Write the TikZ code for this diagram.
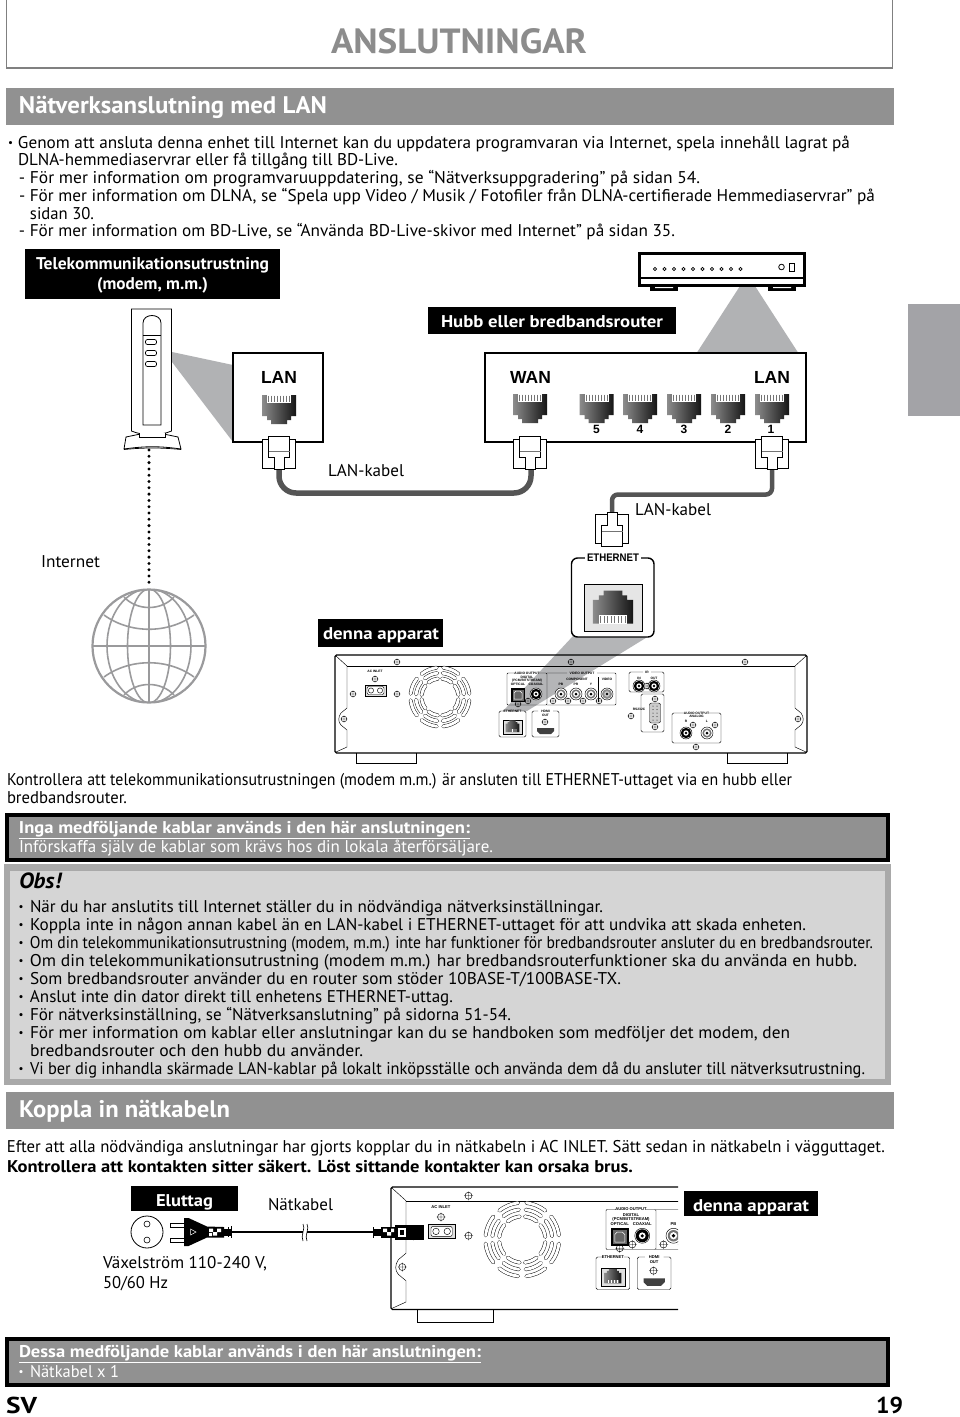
\documentclass[tikz,border=0pt]{standalone}
\usepackage{fontspec}
\usepackage{graphicx}
\setmainfont{PT Sans}
\newfontfamily\arialf{Liberation Sans}
\definecolor{band}{HTML}{919191}
\definecolor{titlegrey}{HTML}{8C8C8C}
\definecolor{fanc}{HTML}{B1B2B4}
\definecolor{tabc}{HTML}{A3A3A7}
\definecolor{obsout}{HTML}{A9A9A9}
\definecolor{obsin}{HTML}{D5D5D5}
\definecolor{framec}{HTML}{808080}
\definecolor{globec}{HTML}{9A9A9C}
\definecolor{cablec}{HTML}{555555}
\newcounter{tc}
\tikzset{
  txt/.style={anchor=base west,inner sep=0pt,outer sep=0pt,text=black,font=\fontsize{17}{18}\selectfont},
  bul/.style={txt,anchor=base,font=\fontsize{11}{12}\selectfont},
  bd/.style={font=\fontsize{17}{18}\selectfont\bfseries},
  wh/.style={text=white},
  lbl/.style={font=\fontsize{17}{18}\selectfont\bfseries,text=white},
  sect/.style={font=\fontsize{24}{26}\selectfont\bfseries,text=white},
  portlab/.style={font=\fontsize{17.5}{20}\arialf\bfseries},
  blackbox/.style={fill=black,draw=none},
  cable/.style={draw=cablec,line cap=round},
  tinylab/.style={anchor=center,inner sep=0pt,outer sep=0pt,transform shape,font=\fontsize{3.3}{4}\arialf\bfseries},
  panel/.style={line width=.45pt},
}
\newcommand\clipx{16000}
\newcommand\tl[5][]{\stepcounter{tc}\node[txt,#1] (t\arabic{tc}) at (#2,#3) {\resizebox{#4pt}{\height}{#5}};}
\newcommand\tbul[3][]{\stepcounter{tc}\node[bul,#1] (t\arabic{tc}) at (#2,#3) {•};}
\newcommand\tn[3]{\ifdim#1pt>\clipx pt\else\stepcounter{tc}\node[tinylab] (t\arabic{tc}) at (#1,#2) {#3};\fi}
% RJ45 socket, local top at 0
\newcommand\jack[2]{%
 \begin{scope}[shift={(#1)},#2]
  \shade[left color=black!45,right color=black!92]
   (-17,0)--(17,0)--(17,21)--(12,21)--(12,25)--(8,25)--(8,29)--(-8,29)--(-8,25)--(-12,25)--(-12,21)--(-17,21)--cycle;
  \fill[white] (-12,0) rectangle (12,7.5);
  \foreach \k in {-10.5,-7.5,...,10.5} {\draw[black!55,line width=.9pt] (\k,0.5)--(\k,7);}
 \end{scope}}
% plug, tip at local y 33.5
\newcommand\plugshape[2]{%
 \begin{scope}[shift={(#1)},#2]
  \draw[fill=white,line width=.8pt] (-16.7,3) rectangle (16.7,32);
  \draw[fill=white,line width=.8pt] (-10.5,0)--(10.5,0)--(10.5,21)--(5,21)--(5,33.5)--(-5,33.5)--(-5,21)--(-10.5,21)--cycle;
  \draw[black!55,line width=.7pt] (-10.5,15)--(10.5,15);
 \end{scope}}
\newcommand\screw[2]{\draw[panel] (#1,#2) circle (2.8) (#1-3.6,#2)--(#1+3.6,#2) (#1,#2-3.6)--(#1,#2+3.6);}
\newcommand\rca[2]{\draw[panel,fill=white] (#1,#2) circle (6); \fill[black!55] (#1,#2) circle (4.6); \fill[white] (#1,#2) circle (2.9); \fill[black] (#1,#2) circle (1.5);}
\newcommand\rcad[2]{\draw[panel,fill=white] (#1,#2) circle (6); \fill[black] (#1,#2) circle (5.2); \fill[white] (#1,#2) circle (2.7); \fill[black] (#1,#2) circle (1.4);}
\newcommand\rcag[2]{\draw[panel,fill=white] (#1,#2) circle (6); \fill[black!45] (#1,#2) circle (5); \fill[black!20] (#1,#2) circle (2.8); \fill[black] (#1,#2) circle (1.4);}
\newcommand\rearpanel{%
 \draw[line width=1.1pt,rounded corners=1.5] (0,0) rectangle (472,98);
 \draw[panel] (1,1)--(12,11)--(12,53)--(6,58) .. controls (3,62) and (3,67) .. (6,70)--(12,75)--(12,92)--(1,97);
 \draw[panel] (471,1)--(460,11)--(460,53)--(466,58) .. controls (469,62) and (469,67) .. (466,70)--(460,75)--(460,92)--(471,97);
 \draw[panel] (12,11)--(460,11);
 \draw[line width=.7pt] (21,98)--(21,108.5)--(81.5,108.5)--(81.5,98);
 \draw[line width=.7pt] (392,98)--(392,108.5)--(452.5,108.5)--(452.5,98);
 \screw{62}{7}\screw{236}{7}\screw{410}{7}\screw{18}{39}\screw{62}{39}\screw{9}{64}\screw{463}{64}
 \screw{40}{24}\screw{296}{61}\screw{361}{92}\screw{183}{49}\screw{193}{46}\screw{218}{46}\screw{233}{46}\screw{248}{46}\screw{264}{46}
 \screw{210}{67}\screw{312}{31}\screw{358}{70}\screw{380}{70}
 \tn{40}{16.4}{AC INLET}
 \draw[panel,fill=black!12] (30,30) rectangle (51,41);
 \draw[panel,fill=white,rounded corners=2] (32,31.5) rectangle (49,39.5);
 \draw[panel] (36,35.5) circle (2.6) (45,35.5) circle (2.6);
 \foreach \a in {22.5,67.5,...,337.5} {
  \foreach \r in {29.5,24,18.5} {
   \draw[line width=3.8pt,line cap=round,black] (105,42) ++(\a-16:\r) arc (\a-16:\a+16:\r);
   \draw[line width=2.9pt,line cap=round,white] (105,42) ++(\a-16:\r) arc (\a-16:\a+16:\r);
  }}
 % audio output digital
 \draw[panel,rounded corners=1] (180,18)--(172,18)--(172,50)--(212,50)--(212,18)--(204,18);
 \tn{192}{18}{AUDIO OUTPUT}
 \tn{192}{22.3}{DIGITAL}\tn{192}{25.6}{(PCM/BITSTREAM)}
 \tn{183}{29.5}{OPTICAL}\tn{201}{29.5}{COAXIAL}
 \fill[black] (176,33) rectangle (190,47);
 \fill[black!60] (177.5,34.5) rectangle (188.5,45.5);
 \draw[white,line width=.5pt] (179,38)--(181,36)--(185,36)--(187,38)--(187,44)--(179,44)--cycle;
 \rcad{201}{39}
 % video output
 \draw[panel,rounded corners=1] (232,18)--(212,18) (212,50)--(281,50)--(281,18)--(262,18);
 \tn{247}{18}{VIDEO OUTPUT}
 \tn{242}{24}{COMPONENT}\tn{272}{24}{VIDEO}
 \draw[panel] (263,22)--(263,47);
 \tn{226}{29.5}{PB}\tn{241}{29.5}{PR}\tn{256}{29.5}{Y}
 \rca{226}{39}\rca{241}{39}\rca{256}{39}\rcag{272}{39}
 % ethernet small
 \draw[panel,rounded corners=1.5] (169,56)--(164,56)--(164,82)--(191,82)--(191,56)--(186,56);
 \tn{177.5}{56}{ETHERNET}
 \draw[panel,fill=black!12] (168,65) rectangle (187,79);
 \jack{177.5,77}{scale=.4,yscale=-1}
 % hdmi
 \draw[panel,rounded corners=1.5] (203,56)--(197,56)--(197,82)--(224,82)--(224,56)--(218,56);
 \tn{210.5}{56}{HDMI}\tn{210.5}{60}{OUT}
 \fill[black!75] (202,73)--(219,73)--(219,76)--(216,79)--(205,79)--(202,76)--cycle;
 % IR box
 \draw[panel,rounded corners=1.5] (308,17)--(294,17)--(294,37)--(329,37)--(329,17)--(316,17);
 \tn{312}{17}{IR}\tn{304}{23}{IN}\tn{319}{23}{OUT}
 \rcad{304}{31}\rcad{319}{31}
 % RS232
 \draw[panel,rounded corners=1.5] (306,39) rectangle (329,77);
 \tn{304}{54}{RS232C}
 \draw[panel,fill=black!20,rounded corners=2] (314.5,48) rectangle (325.5,68);
 \foreach \k in {51,54.5,...,65} {\fill[black] (318,\k) circle (.5) (322,\k) circle (.5);}
 \screw{320}{44}\screw{320}{72}
 % analog
 \draw[panel,rounded corners=1.5] (350,58)--(337,58)--(337,88)--(386,88)--(386,58)--(373,58);
 \tn{361.5}{58}{AUDIO OUTPUT}\tn{361.5}{61.5}{ANALOG}
 \tn{351}{66}{R}\tn{372}{66}{L}
 \rcad{351}{78}\rca{372}{78}
}
\begin{document}
\begin{tikzpicture}[x=1pt,y=-1pt,line join=miter]
\useasboundingbox (0,0) rectangle (960,1417);
\fill[white] (0,0) rectangle (960,1417);
% top frame and title
\draw[framec,line width=1.3pt] (6.5,0)--(6.5,68)--(892.5,68)--(892.5,0);
\tl[font=\fontsize{35}{38}\selectfont\bfseries,text=titlegrey]{331}{53}{256}{ANSLUTNINGAR}
\fill[tabc] (908,304) rectangle (960,416);
% section 1
\fill[band] (6,88) rectangle (894,125);
\tl[sect]{19}{113}{308}{Nätverksanslutning med LAN}
\tbul{10.5}{146.5}
\tl{18}{148}{832}{Genom att ansluta denna enhet till Internet kan du uppdatera programvaran via Internet, spela innehåll lagrat på}
\tl{18}{165.5}{380}{DLNA-hemmediaservrar eller få tillgång till BD-Live.}
\tl{19}{183}{681}{- För mer information om programvaruuppdatering, se “Nätverksuppgradering” på sidan 54.}
\tl{19}{201}{856}{- För mer information om DLNA, se “Spela upp Video / Musik / Fotofiler från DLNA-certifierade Hemmediaservrar” på}
\tl{30}{219}{64}{sidan 30.}
\tl{19}{236.5}{656}{- För mer information om BD-Live, se “Använda BD-Live-skivor med Internet” på sidan 35.}
% modem
\node[blackbox,minimum width=255pt,minimum height=50pt,inner sep=0pt] (telbox) at (152.5,274) {};
\tl[lbl]{36}{269}{233}{Telekommunikationsutrustning}
\tl[lbl]{97}{289}{111}{(modem, m.m.)}
\fill[fanc] (172,352)--(233,365)--(233,442)--(172,362)--cycle;
\draw[line width=.8pt] (131.5,309)--(171.5,309)--(171.5,431) .. controls (160,436) and (143,436) .. (131.5,431)--cycle;
\draw[line width=.8pt] (143,335) -- (143,323) .. controls (143,313) and (161,313) .. (161,323) -- (161,425) -- (143,425) -- cycle;
\draw[line width=.6pt] (143,335)--(161,335);
\foreach \yy in {342,353,364} {\draw[line width=.7pt,rounded corners=2] (145.5,\yy-2.5) rectangle (156.5,\yy+2.5);}
\draw[fill=white,line width=.8pt] (126,437)--(138,434.5)--(166,434.5)--(178,437)--(181,449) .. controls (160,446) and (145,446) .. (124,449)--cycle;
\draw[line width=.7pt] (124,449.5) .. controls (145,447.5) and (160,447.5) .. (181,449.5);
\draw[fill=white,line width=.7pt] (139,433)--(139,437)--(165,437)--(165,433);
\coordinate (modembase) at (149,450);
% globe
\node[circle,draw=globec,line width=2.2pt,minimum size=113pt,inner sep=0pt,outer sep=0pt] (globe) at (149,646) {};
\begin{scope}[globec,line width=1.6pt]
 \clip (149,646) circle (57);
 \draw (92,646)--(206,646) (149,589)--(149,703);
 \draw (149,646) ellipse (21.5 and 57) (149,646) ellipse (42 and 57);
 \draw (104,615) .. controls (130,634) and (168,634) .. (194,615);
 \draw (124,597) .. controls (137,611) and (161,611) .. (174,597);
 \draw (104,677) .. controls (130,658) and (168,658) .. (194,677);
 \draw (124,695) .. controls (137,681) and (161,681) .. (174,695);
\end{scope}
\draw[line width=3.3pt,line cap=round,dash pattern=on 0pt off 6.3pt,shorten >=2pt] (modembase) -- (globe.north);
\tl{41}{567}{59}{Internet}
% LAN box of modem
\node[draw,line width=1.1pt,minimum width=90pt,minimum height=89pt,inner sep=0pt] (lanA) at (278,397.5) {};
\stepcounter{tc}\node[txt,portlab,anchor=base] (t\arabic{tc}) at (279,383) {LAN};
\jack{279,395}{}
% router
\draw[line width=1.2pt,fill=black] (651,286) rectangle (677,290) (769,286) rectangle (795,290);
\fill[white] (655,286) rectangle (673,288) (773,286) rectangle (791,288);
\fill[fanc] (740,286)--(755,286)--(798,352.5)--(697,352.5)--cycle;
\node[draw,line width=2.6pt,minimum width=165pt,minimum height=32pt,inner sep=0pt] (router) at (722,269.5) {};
\draw[line width=1.3pt] (639,278)--(805,278);
\foreach \k in {0,...,9} {\draw[line width=.7pt] (655+9.5*\k,269) circle (1.7);}
\draw[line width=.8pt] (781.5,267) circle (2.8);
\draw[line width=1pt] (789.5,263) rectangle (794,271);
\node[blackbox,minimum width=248pt,minimum height=27pt,inner sep=0pt] (hubbox) at (552,320.5) {};
\tl[lbl]{441}{327}{222}{Hubb eller bredbandsrouter}
% hub
\node[draw,line width=1.1pt,minimum width=321pt,minimum height=89pt,inner sep=0pt] (hub) at (645.5,397.5) {};
\stepcounter{tc}\node[txt,portlab,anchor=base] (t\arabic{tc}) at (530.5,383) {WAN};
\stepcounter{tc}\node[txt,portlab,anchor=base] (t\arabic{tc}) at (772,383) {LAN};
\foreach \xx in {530,596.5,640,684,728,772} {\jack{\xx,394}{}}
\stepcounter{tc}\node[txt,anchor=base,font=\fontsize{12}{13}\arialf\bfseries] (t\arabic{tc}) at (596.5,433.5) {5};
\stepcounter{tc}\node[txt,anchor=base,font=\fontsize{12}{13}\arialf\bfseries] (t\arabic{tc}) at (640,433.5) {4};
\stepcounter{tc}\node[txt,anchor=base,font=\fontsize{12}{13}\arialf\bfseries] (t\arabic{tc}) at (684,433.5) {3};
\stepcounter{tc}\node[txt,anchor=base,font=\fontsize{12}{13}\arialf\bfseries] (t\arabic{tc}) at (728,433.5) {2};
\stepcounter{tc}\node[txt,anchor=base,font=\fontsize{12}{13}\arialf\bfseries] (t\arabic{tc}) at (771,433.5) {1};
% cables
\coordinate (plugA) at (279,469);
\coordinate (plugB) at (531,469);
\coordinate (plugC) at (772,469);
\coordinate (plugD) at (612,513);
\draw[cable,line width=5.5pt,rounded corners=17pt] (plugA) -- ++(0,24) -| (plugB);
\draw[cable,line width=4.5pt,rounded corners=6pt] (plugC) -- ++(0,25.5) -| (plugD);
\plugshape{279,436}{}
\plugshape{530,436}{}
\plugshape{772,436}{}
\plugshape{612,546}{yscale=-1}
\tl{328}{476}{76}{LAN-kabel}
\tl{635}{515}{76}{LAN-kabel}
% ethernet zoom
\fill[fanc,opacity=.95] (573,636)--(649,636)--(527,711)--(503,711)--cycle;
\draw[line width=1.4pt,rounded corners=6pt,fill=white] (571.5,558) rectangle (654,637);
\node[fill=white,inner sep=2pt,font=\fontsize{11}{12}\arialf\bfseries] (ethlabel) at (613,558) {\resizebox{52pt}{\height}{ETHERNET}};
\draw[line width=.6pt,fill=black!10] (584.5,584) rectangle (642,631);
\jack{613,623.5}{xscale=1.18,yscale=-1.13}
\node[blackbox,minimum width=125pt,minimum height=28pt,inner sep=0pt] (dboxA) at (380.5,633) {};
\tl[lbl]{323}{639}{116}{denna apparat}
% rear panel 1
\begin{scope}[shift={(335,655)}]
 \rearpanel
\end{scope}
% notes
\tl{7}{785}{785}{Kontrollera att telekommunikationsutrustningen (modem m.m.) är ansluten till ETHERNET-uttaget via en hubb eller}
\tl{7}{803}{120}{bredbandsrouter.}
\node[draw,fill=band,line width=3.6pt,minimum width=881pt,minimum height=45.5pt,inner sep=0pt] (boxA) at (447.5,837.5) {};
\tl[bd,wh]{19}{833}{451}{\underline{Inga medföljande kablar används i den här anslutningen:}}
\tl[wh]{19}{852}{474}{Införskaffa själv de kablar som krävs hos din lokala återförsäljare.}
\node[draw=obsout,fill=obsin,line width=6.5pt,minimum width=881pt,minimum height=214.5pt,inner sep=0pt] (obsbox) at (447.5,974.5) {};
\tl[font=\fontsize{22}{24}\selectfont\bfseries\itshape]{19}{888}{42}{Obs!}
\foreach \yy in {912,930,948,966,984,1002,1020,1038,1074} {\tbul{21}{\yy-1.5}}
\tl{30}{912}{573}{När du har anslutits till Internet ställer du in nödvändiga nätverksinställningar.}
\tl{30}{930}{776}{Koppla inte in någon annan kabel än en LAN-kabel i ETHERNET-uttaget för att undvika att skada enheten.}
\tl{30}{948}{843}{Om din telekommunikationsutrustning (modem, m.m.) inte har funktioner för bredbandsrouter ansluter du en bredbandsrouter.}
\tl{30}{966}{827}{Om din telekommunikationsutrustning (modem m.m.) har bredbandsrouterfunktioner ska du använda en hubb.}
\tl{30}{984}{591}{Som bredbandsrouter använder du en router som stöder 10BASE-T/100BASE-TX.}
\tl{30}{1002}{423}{Anslut inte din dator direkt till enhetens ETHERNET-uttag.}
\tl{30}{1020}{481}{För nätverksinställning, se “Nätverksanslutning” på sidorna 51-54.}
\tl{30}{1038}{760}{För mer information om kablar eller anslutningar kan du se handboken som medföljer det modem, den}
\tl{30}{1056}{333}{bredbandsrouter och den hubb du använder.}
\tl{30}{1074}{835}{Vi ber dig inhandla skärmade LAN-kablar på lokalt inköpsställe och använda dem då du ansluter till nätverksutrustning.}
% section 2
\fill[band] (6,1092) rectangle (894,1129);
\tl[sect]{19}{1117}{211}{Koppla in nätkabeln}
\tl{7}{1152}{878}{Efter att alla nödvändiga anslutningar har gjorts kopplar du in nätkabeln i AC INLET. Sätt sedan in nätkabeln i vägguttaget.}
\tl[bd]{7}{1172}{626}{Kontrollera att kontakten sitter säkert. Löst sittande kontakter kan orsaka brus.}
\node[blackbox,minimum width=107pt,minimum height=25pt,inner sep=0pt] (elbox) at (184.5,1198.5) {};
\tl[lbl]{156}{1206}{57}{Eluttag}
\tl{268}{1210}{65}{Nätkabel}
\node[circle,draw,line width=.8pt,minimum size=32pt,inner sep=0pt] (outlet) at (147,1232) {};
\node[circle,draw,line width=.6pt,minimum size=6pt,inner sep=0pt] (holeA) at (147,1224) {};
\node[circle,draw,line width=.6pt,minimum size=6pt,inner sep=0pt] (holeB) at (147,1240) {};
\tl{103}{1268}{164}{Växelström 110-240 V,}
\tl{103}{1288}{65}{50/60 Hz}
% rear panel 2
\begin{scope}[shift={(391,1187)},scale=1.25,transform shape]
 \renewcommand\clipx{229}
 \clip (-3,-3) rectangle (229.6,115);
 \rearpanel
\end{scope}
% mains plug
\draw[line width=.8pt,fill=white] (170,1223) rectangle (184,1227) (170,1238) rectangle (184,1242);
\fill[black] (184,1218)--(188.5,1218)--(207,1226.5)--(224,1227)--(224,1237.5)--(207,1237.5)--(188.5,1246)--(184,1246)--cycle;
\draw[white,line width=.5pt] (190.5,1229)--(196,1232)--(190.5,1235)--cycle;
\fill[white] (209,1228.5) rectangle (213,1232) (213,1232) rectangle (217,1235.5) (217,1228.5) rectangle (221,1232) (209,1233) rectangle (212,1236);
\fill[black] (224,1228.5) rectangle (231,1236);
\draw[line width=.7pt] (231.5,1226)--(231.5,1238) (228,1227)--(228,1237);
\coordinate (cordA) at (231,1232);
\coordinate (cordB) at (374,1232);
\draw[line width=2.8pt] (cordA) -- (cordB);
\fill[white] (303,1228) rectangle (306.5,1236);
\draw[line width=.6pt] (303,1224) .. controls (306,1228) and (300,1236) .. (303,1241);
\draw[line width=.6pt] (307,1224) .. controls (310,1228) and (304,1236) .. (307,1241);
% appliance connector
\draw[line width=.7pt] (373.5,1227)--(373.5,1238);
\fill[black] (374,1228.5) rectangle (381,1236);
\fill[black] (381,1226.5) rectangle (395,1237.5);
\fill[white] (383,1228.5) rectangle (387,1232) (387,1232) rectangle (391,1235.5) (391,1228.5) rectangle (394,1232);
\fill[black] (395,1225) rectangle (424,1239.5);
\fill[white] (398,1227.5) rectangle (406,1236.5);
\fill[black] (400,1229.5) rectangle (404,1234.5);
\node[blackbox,minimum width=134pt,minimum height=25pt,inner sep=0pt] (dboxB) at (751,1203.5) {};
\tl[lbl]{693}{1211}{116}{denna apparat}
% box 3
\node[draw,fill=band,line width=3.6pt,minimum width=881pt,minimum height=46pt,inner sep=0pt] (boxB) at (447.5,1362) {};
\tl[bd,wh]{19}{1357}{462}{\underline{Dessa medföljande kablar används i den här anslutningen:}}
\tbul[wh]{21}{1375.5}
\tl[wh]{30}{1377}{89}{Nätkabel x 1}
\tl[font=\fontsize{23}{25}\selectfont\bfseries]{6}{1413}{31}{SV}
\tl[font=\fontsize{23}{25}\selectfont\bfseries]{876}{1413}{27}{19}
\end{tikzpicture}
\end{document}
